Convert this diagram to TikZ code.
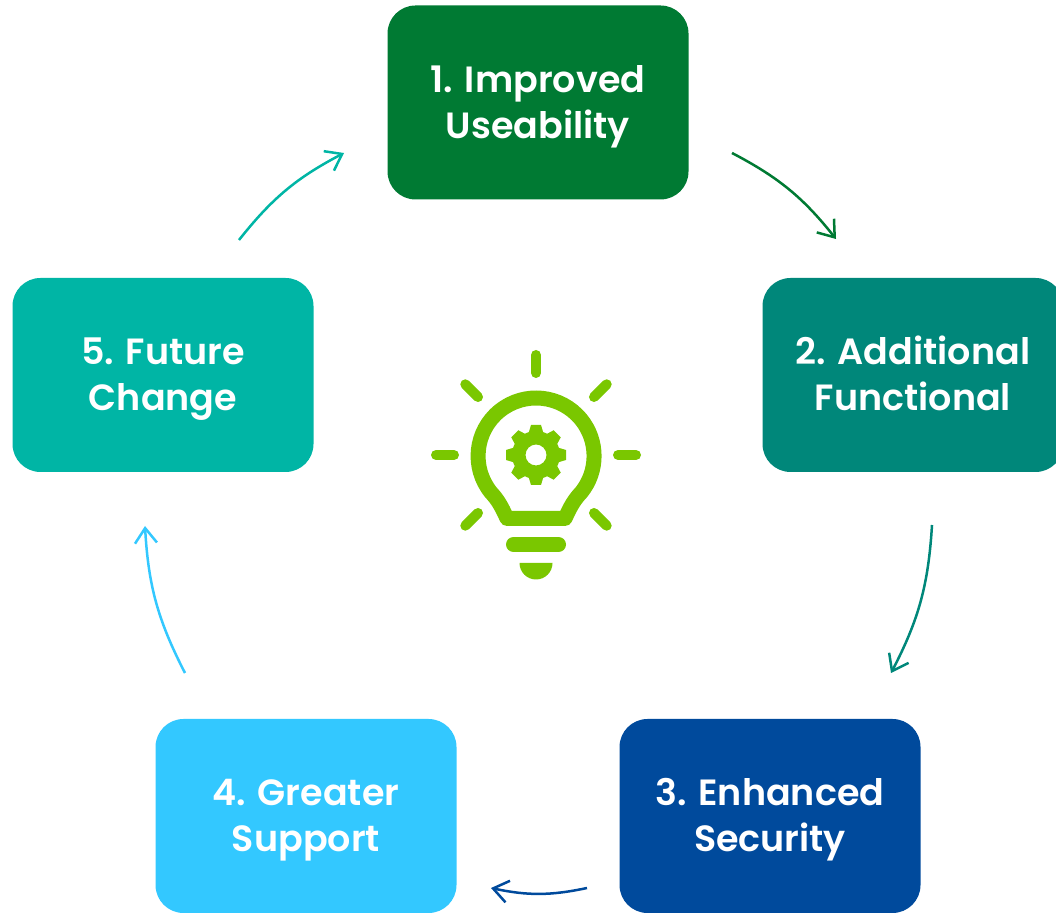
\documentclass[tikz,border=0pt]{standalone}
\usepackage{fontspec}
\setmainfont{Poppins}[BoldFont={Poppins SemiBold}]
\usetikzlibrary{arrows.meta}
\definecolor{stageone}{HTML}{007A33}
\definecolor{stagetwo}{HTML}{00877A}
\definecolor{stagethree}{HTML}{004A9C}
\definecolor{stagefour}{HTML}{33C8FF}
\definecolor{stagefive}{HTML}{00B5A5}
\definecolor{bulbgreen}{HTML}{7AC700}
\newcommand{\stagetop}{\rule{0pt}{36pt}}
\newcommand{\stagebot}{\rule[-10pt]{0pt}{10pt}}
\begin{document}
\begin{tikzpicture}[x=1pt,y=1pt,stagebox/.style={rounded corners=28pt,minimum width=301pt,minimum height=194pt,inner sep=0pt,align=center,text=white,font=\fontsize{36.5}{46}\selectfont\bfseries},
	cycleline/.style={line width=2.5pt,-{Straight Barb[length=15pt,width=22pt,line width=2.5pt]},bend left=12},
	bulbline/.style={draw=bulbgreen,line width=15pt,line join=round},
	rayline/.style={draw=bulbgreen,line width=10pt,line cap=round}]
	\useasboundingbox (0,0) rectangle (1056,912);
	\clip (0,0) rectangle (1056,912);
	\node[stagebox,fill=stageone] (improved) at (538,809.5) {\stagetop 1. Improved\\\stagebot Useability};
	\node[stagebox,fill=stagetwo] (additional) at (913,537) {\stagetop 2. Additional\\\stagebot Functional};
	\node[stagebox,fill=stagethree] (security) at (770,96) {\stagetop 3. Enhanced\\\stagebot Security};
	\node[stagebox,fill=stagefour] (support) at (306,96) {\stagetop 4. Greater\\\stagebot Support};
	\node[stagebox,fill=stagefive] (change) at (163,537) {\stagetop 5. Future\\\stagebot Change};
	\coordinate (a1) at (732,759);
	\coordinate (b1) at (836,673);
	\coordinate (a2) at (932,387);
	\coordinate (b2) at (891,239);
	\coordinate (a3) at (587,24);
	\coordinate (b3) at (491,24);
	\coordinate (a4) at (185,239);
	\coordinate (b4) at (145,386);
	\coordinate (a5) at (239,672);
	\coordinate (b5) at (344,759);
	\draw[cycleline,stageone] (a1) to (b1);
	\draw[cycleline,stagetwo] (a2) to (b2);
	\draw[cycleline,stagethree] (a3) to (b3);
	\draw[cycleline,stagefour] (a4) to (b4);
	\draw[cycleline,stagefive] (a5) to (b5);
	\coordinate (bulb) at (536,457);
	\foreach \ang in {0,45,90,135,180,225,315}
		\draw[rayline] ([shift={(\ang:82)}]bulb) -- ([shift={(\ang:100)}]bulb);
	\draw[bulbline] (507,393.5) .. controls (501,407) and (497,413) .. (491,419.5) arc (219:-39:58) .. controls (575,413) and (571,407) .. (565,393.5) -- cycle;
	\foreach \ang in {0,45,...,315}
		\fill[bulbgreen,shift={(bulb)},rotate=\ang] (20,-8) -- (30,-5) -- (30,5) -- (20,8) -- cycle;
	\fill[bulbgreen,even odd rule] (bulb) circle (24) (bulb) circle (10.5);
	\draw[bulbline,line cap=round] (513.5,367.5) -- (558.5,367.5);
	\fill[bulbgreen] (519.5,349) arc (180:360:16.5) -- cycle;
\end{tikzpicture}
\end{document}
